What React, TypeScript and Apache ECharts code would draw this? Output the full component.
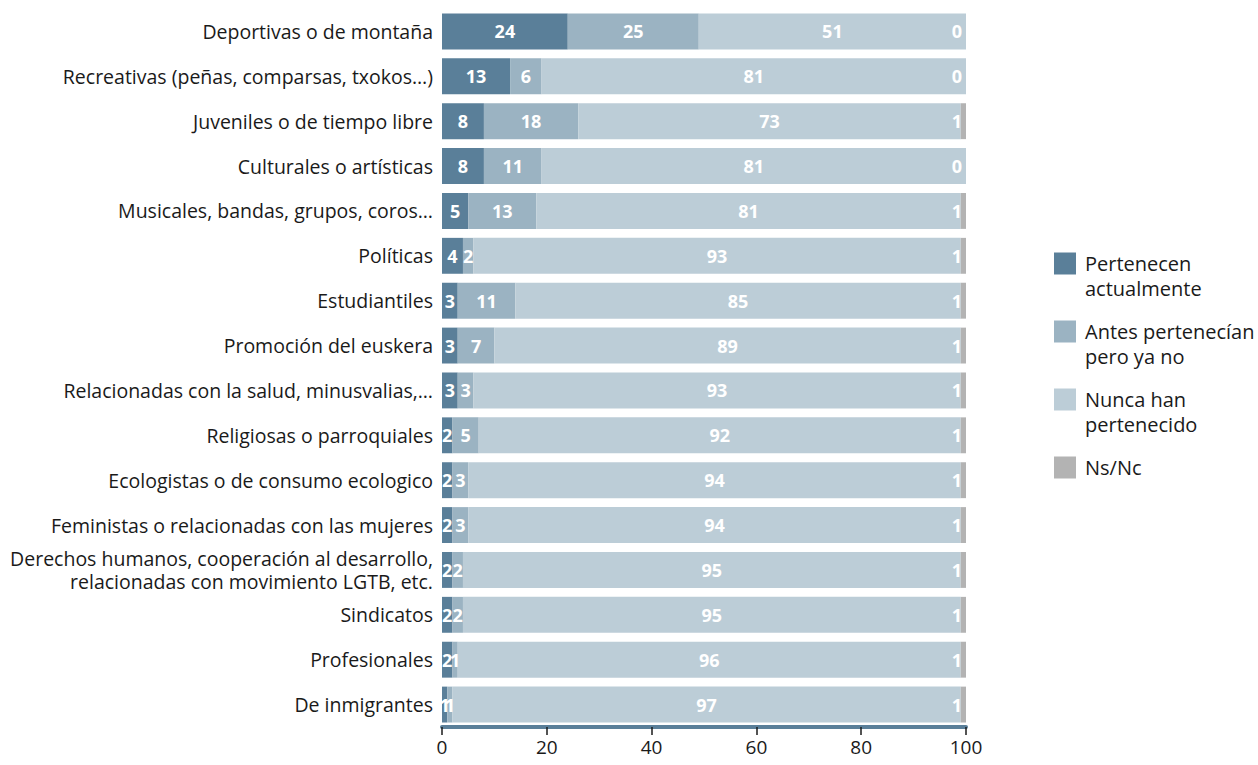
import React, { useEffect, useRef } from "react";
import * as echarts from "echarts";

const categories = [
  "Deportivas o de montaña",
  "Recreativas (peñas, comparsas, txokos…)",
  "Juveniles o de tiempo libre",
  "Culturales o artísticas",
  "Musicales, bandas, grupos, coros…",
  "Políticas",
  "Estudiantiles",
  "Promoción del euskera",
  "Relacionadas con la salud, minusvalias,…",
  "Religiosas o parroquiales",
  "Ecologistas o de consumo ecologico",
  "Feministas o relacionadas con las mujeres",
  "Derechos humanos, cooperación al desarrollo,\nrelacionadas con movimiento LGTB, etc.",
  "Sindicatos",
  "Profesionales",
  "De inmigrantes",
];

const seriesNames = [
  "Pertenecen\nactualmente",
  "Antes pertenecían\npero ya no",
  "Nunca han\npertenecido",
  "Ns/Nc",
];

const pertenecen = [24, 13, 8, 8, 5, 4, 3, 3, 3, 2, 2, 2, 2, 2, 2, 1];
const antes = [25, 6, 18, 11, 13, 2, 11, 7, 3, 5, 3, 3, 2, 2, 1, 1];
const nunca = [51, 81, 73, 81, 81, 93, 85, 89, 93, 92, 94, 94, 95, 95, 96, 97];
const nsnc = [0, 0, 1, 0, 1, 1, 1, 1, 1, 1, 1, 1, 1, 1, 1, 1];

const xTicks = [0, 20, 40, 60, 80, 100];

const colors = ["#5a7f99", "#9bb3c2", "#bccdd7", "#b3b3b3"];
const FONT = "'Open Sans', 'Noto Sans', sans-serif";

export default function App() {
  const ref = useRef<HTMLDivElement>(null);
  useEffect(() => {
    if (!ref.current) return;
    const chart = echarts.init(ref.current, undefined, { renderer: "svg" });
    const values = [pertenecen, antes, nunca, nsnc];
    const labelStyle = {
      show: true,
      color: "#ffffff",
      fontWeight: "bold" as const,
      fontSize: 18,
      fontFamily: FONT,
    };
    const series = values.map((data, i) => ({
      type: "bar" as const,
      name: seriesNames[i],
      stack: "total",
      data,
      barWidth: "80%",
      itemStyle: { color: colors[i] },
      label:
        i === 3
          ? { ...labelStyle, position: "insideRight" as const, distance: 4 }
          : { ...labelStyle, position: "inside" as const },
      emphasis: { disabled: true },
    }));
    chart.setOption({
      animation: false,
      textStyle: { fontFamily: FONT },
      grid: { left: 442, right: 292, top: 9, bottom: 38, containLabel: false },
      legend: {
        orient: "vertical",
        left: 1054,
        top: 226,
        padding: 0,
        itemGap: -7,
        itemWidth: 22,
        itemHeight: 22,
        icon: "rect",
        selectedMode: false,
        formatter: (name: string) =>
          name.includes("\n") ? " \n" + name : " \n" + name + "\n ",
        textStyle: {
          fontSize: 20,
          color: "#1a1a1a",
          lineHeight: 25,
          fontFamily: FONT,
          padding: [0, 0, 0, 4],
        },
        data: seriesNames,
      },
      xAxis: {
        type: "value",
        min: xTicks[0],
        max: xTicks[xTicks.length - 1],
        interval: 20,
        splitLine: { show: false },
        axisLine: { show: true, lineStyle: { color: "#5a7f99", width: 4 } },
        axisTick: { show: true, length: 8, lineStyle: { color: "#1a1a1a", width: 1.5 } },
        axisLabel: { fontSize: 19, color: "#1a1a1a", margin: 10, fontFamily: FONT },
      },
      yAxis: {
        type: "category",
        data: categories,
        inverse: true,
        axisLine: { show: false },
        axisTick: { show: false },
        axisLabel: {
          fontSize: 19.5,
          color: "#1a1a1a",
          margin: 9,
          lineHeight: 23,
          align: "right",
          fontFamily: FONT,
        },
      },
      series,
    });
    return () => chart.dispose();
  }, []);
  return <div ref={ref} style={{ width: 1258, height: 765, position: "absolute", left: 0, top: 0 }} />;
}
